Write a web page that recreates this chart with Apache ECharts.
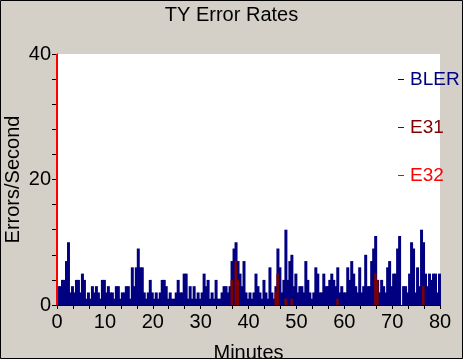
<!DOCTYPE html>
<html>
<head>
<meta charset="utf-8">
<script src="https://cdn.jsdelivr.net/npm/echarts@6/dist/echarts.min.js"></script>
<style>
html,body{margin:0;padding:0;background:#d4d0c8;}
#c{width:463px;height:359px;}
</style>
</head>
<body>
<div id="c"></div>
<script>
// Chart data
const title = 'TY Error Rates';
const seriesNames = ['BLER', 'E31', 'E32'];
const xTicks = [0, 10, 20, 30, 40, 50, 60, 70, 80];
const yTicks = [0, 20, 40];
const totalMinutes = 80;
// BLER errors/second, one value per evenly spaced sample across 0..80 min
const bler = [
  3,3,4,4,7,10,2,3,2,4,4,2,5,4,1,2,1,3,2,3,2,1,4,4,2,3,2,2,1,3,3,1,
  2,2,3,3,1,6,3,6,9,6,6,2,1,2,4,2,1,2,1,2,4,4,3,1,2,1,1,2,4,2,2,5,
  5,1,3,1,3,1,2,1,2,5,3,4,1,2,1,4,1,1,2,3,3,2,3,7,9,10,7,5,3,7,2,1,
  2,1,2,5,3,2,1,4,2,1,6,2,1,3,9,6,2,4,12,4,7,8,3,5,2,3,3,2,7,4,2,1,
  2,6,5,2,2,5,3,3,4,5,4,3,6,2,3,2,2,6,4,7,5,3,2,6,2,3,8,3,3,7,9,11,
  4,2,4,3,2,6,7,3,5,5,9,11,0,3,3,2,5,10,9,2,6,3,12,10,5,3,5,4,5,5,2,5
];
// E31: sample index and value
const e31Index = [87, 89, 90, 109, 110, 114, 117, 140, 159, 160, 183];
const e31Values = [4, 7, 4, 2, 5, 1, 1, 1, 5, 4, 3];
// E32: minute and value (off-scale at start)
const e32Minutes = [0];
const e32Values = [40];

const dt = totalMinutes / bler.length;
const blerData = bler.map((v, i) => [(i + 0.5) * dt, v]);
const e31Data = e31Index.map((idx, k) => [(idx + 0.5) * dt, e31Values[k]]);
const e32Data = e32Minutes.map((m, k) => [m, e32Values[k]]);

const colors = ['#000080', '#800000', '#ff0000'];
const font = "'Liberation Sans', Arial, sans-serif";

const chart = echarts.init(document.getElementById('c'), null, {renderer: 'canvas'});
chart.setOption({
  animation: false,
  backgroundColor: '#d4d0c8',
  textStyle: {fontFamily: font},
  title: {
    text: title, left: 'center', top: 0,
    textStyle: {fontSize: 20, fontWeight: 'normal', color: '#000', fontFamily: font}
  },
  grid: {left: 57, top: 54, width: 383, height: 251, show: true, backgroundColor: '#ffffff', borderWidth: 0, containLabel: false, outerBoundsMode: 'none'},
  legend: {
    orient: 'vertical', left: 393, top: 65, itemGap: 29,
    itemWidth: 6, itemHeight: 1,
    icon: 'rect',
    textStyle: {fontSize: 19, fontFamily: font, padding: [0, 0, 0, 1]},
    data: seriesNames.map((n, i) => ({name: n, itemStyle: {color: colors[i]}, textStyle: {color: colors[i]}}))
  },
  xAxis: {
    type: 'value', min: xTicks[0], max: xTicks[xTicks.length - 1], interval: 10,
    name: 'Minutes', nameLocation: 'middle', nameGap: 38, nameMoveOverlap: false,
    nameTextStyle: {fontSize: 20, color: '#000', fontFamily: font},
    axisLine: {show: true, lineStyle: {color: '#000', width: 1}},
    axisTick: {show: true, length: 4, lineStyle: {color: '#000'}},
    minorTick: {show: true, splitNumber: 3, length: 4, lineStyle: {color: '#000'}},
    axisLabel: {fontSize: 20, color: '#000', margin: 7, fontFamily: font},
    splitLine: {show: false}
  },
  yAxis: {
    type: 'value', min: yTicks[0], max: yTicks[yTicks.length - 1], interval: 20,
    name: 'Errors/Second', nameLocation: 'middle', nameGap: 34, nameRotate: 90, nameMoveOverlap: false,
    nameTextStyle: {fontSize: 20, color: '#000', fontFamily: font},
    axisLine: {show: true, lineStyle: {color: '#000', width: 1}},
    axisTick: {show: true, length: 5, lineStyle: {color: '#000'}},
    minorTick: {show: true, splitNumber: 5, length: 5, lineStyle: {color: '#000'}},
    axisLabel: {fontSize: 20, color: '#000', margin: 6, fontFamily: font},
    splitLine: {show: false}
  },
  series: [
    {name: 'BLER', type: 'bar', data: blerData, barWidth: 3, barGap: '-100%', itemStyle: {color: colors[0]}, clip: true},
    {name: 'E31', type: 'bar', data: e31Data, barWidth: 2.5, barGap: '-100%', itemStyle: {color: colors[1]}, clip: true},
    {name: 'E32', type: 'bar', data: e32Data, barWidth: 2, barGap: '-100%', itemStyle: {color: colors[2]}, clip: true}
  ],
  graphic: [{
    type: 'rect', z: 100, silent: true,
    shape: {x: 0.5, y: 0.5, width: 462, height: 358},
    style: {fill: 'none', stroke: '#000', lineWidth: 1}
  }]
});
</script>
</body>
</html>
